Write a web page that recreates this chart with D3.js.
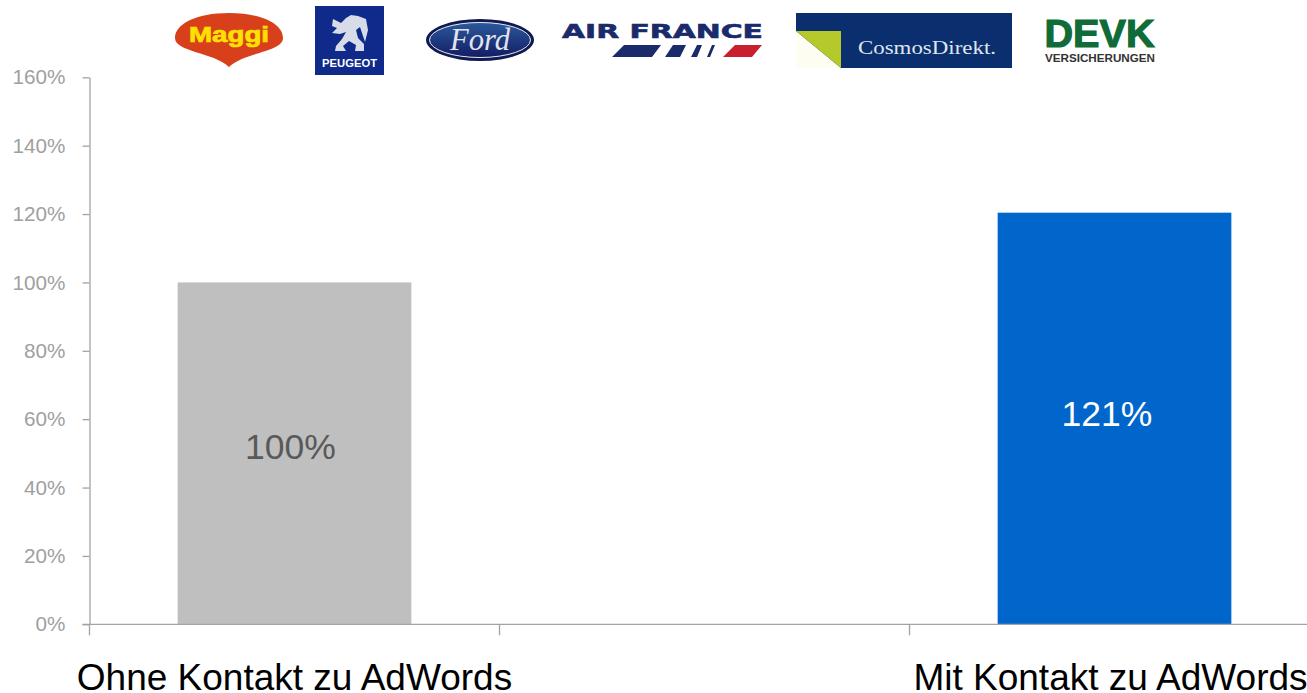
<!DOCTYPE html>
<html>
<head>
<meta charset="utf-8">
<script src="https://d3js.org/d3.v7.min.js"></script>
<style>
html, body { margin: 0; padding: 0; background: #fff; overflow: hidden; }
svg { display: block; font-family: "Liberation Sans", Arial, sans-serif; }
</style>
</head>
<body>
<svg id="chart" width="1307" height="693"></svg>
<script>
// middle category is empty in the original chart, it only leaves the gap
const categories = ["Ohne Kontakt zu AdWords", "", "Mit Kontakt zu AdWords"];
const barCategories = ["Ohne Kontakt zu AdWords", "Mit Kontakt zu AdWords"];
const barValues = [100, 120.4];
const barLabels = ["100%", "121%"];
const yTicks = [0, 20, 40, 60, 80, 100, 120, 140, 160];

const svg = d3.select("#chart");
const axisColor = "#a3a3a3";

const x = d3.scaleBand().domain(categories).range([89.5, 1319.5]);
const y = d3.scaleLinear().domain([0, 160]).range([624.3, 77.3]);
const barWidth = x.bandwidth() * 0.57;

// bars
const bars = svg.append("g").selectAll("g")
  .data(barCategories)
  .enter().append("g");

bars.append("rect")
  .attr("x", d => x(d) + (x.bandwidth() - barWidth) / 2)
  .attr("y", (d, i) => y(barValues[i]))
  .attr("width", barWidth)
  .attr("height", (d, i) => y(0) - y(barValues[i]))
  .attr("fill", (d, i) => i == 0 ? "#bfbfbf" : "#0066cc");

// the labels sit a little left of the bar centre in the original
bars.append("text")
  .attr("x", (d, i) => x(d) + x.bandwidth() / 2 - 4 - 3.5 * i)
  .attr("y", (d, i) => (y(0) + y(barValues[i])) / 2 + 6 + 2 * i)
  .attr("text-anchor", "middle")
  .attr("font-size", 35.5)
  .attr("fill", (d, i) => i == 0 ? "#595959" : "#ffffff")
  .text((d, i) => barLabels[i]);

// y axis
const yAxis = svg.append("g")
  .attr("transform", "translate(89.5,0)")
  .call(d3.axisLeft(y).tickValues(yTicks).tickSize(7).tickSizeOuter(0).tickPadding(17).tickFormat(d => d + "%"));
yAxis.select(".domain").attr("stroke", axisColor).attr("stroke-width", 1.3);
yAxis.selectAll(".tick line").attr("stroke", axisColor).attr("stroke-width", 1.3);
yAxis.selectAll(".tick text")
  .attr("fill", "#a0a0a0")
  .attr("font-family", "Liberation Sans")
  .attr("font-size", 20.7);

// x axis, ticks sit between the categories
const xAxis = svg.append("g");
xAxis.append("line")
  .attr("x1", 82.5).attr("x2", 1307)
  .attr("y1", y(0)).attr("y2", y(0))
  .attr("stroke", axisColor).attr("stroke-width", 1.3);
xAxis.selectAll(".xtick")
  .data(categories)
  .enter().append("line")
  .attr("class", "xtick")
  .attr("x1", d => x(d)).attr("x2", d => x(d))
  .attr("y1", y(0)).attr("y2", y(0) + 11)
  .attr("stroke", axisColor).attr("stroke-width", 1.3);
xAxis.selectAll(".xlabel")
  .data(barCategories)
  .enter().append("text")
  .attr("class", "xlabel")
  .attr("x", (d, i) => x(d) + x.bandwidth() / 2 - i * 4)
  .attr("y", 690)
  .attr("text-anchor", "middle")
  .attr("font-size", 37)
  .attr("fill", "#000")
  .text(d => d);

// logo row
const logos = svg.append("g");
const defs = svg.append("defs");
const fordGrad = defs.append("linearGradient").attr("id", "fordGrad").attr("x1", 0).attr("y1", 0).attr("x2", 0).attr("y2", 1);
fordGrad.append("stop").attr("offset", 0).attr("stop-color", "#2a5a9c");
fordGrad.append("stop").attr("offset", 1).attr("stop-color", "#141c63");

// Maggi
logos.append("path")
  .attr("d", "M229,13 C262,13 283,24 283,38 C283,52 245,52 229,67 C213,52 175,52 175,38 C175,24 196,13 229,13 Z")
  .attr("fill", "#d8401c");
logos.append("text").attr("x", 189).attr("y", 42)
  .attr("textLength", 80).attr("lengthAdjust", "spacingAndGlyphs")
  .attr("font-size", 22).attr("font-weight", "bold")
  .attr("stroke", "#ffe000").attr("stroke-width", 0.7)
  .attr("fill", "#ffe000").text("Maggi");

// Peugeot
logos.append("rect").attr("x", 315).attr("y", 6).attr("width", 69).attr("height", 69).attr("fill", "#0f2a8a");
logos.append("path")
  .attr("d", "M333,19 L341,23 L346,18 L351,15 L358,16 L366,19 L368,30 L365,42 L362,33 L360,27 L356,30 L358,38 L364,44 L364,51 L355,51 L356,45 L349,41 L343,46 L346,51 L335,51 L336,46 L342,39 L346,32 L340,34 L332,33 L337,28 L332,26 Z")
  .attr("fill", "#d8dbe8");
logos.append("text").attr("x", 322).attr("y", 66.5)
  .attr("textLength", 55).attr("lengthAdjust", "spacingAndGlyphs")
  .attr("font-size", 10.5).attr("font-weight", "bold")
  .attr("fill", "#fff").text("PEUGEOT");

// Ford
logos.append("ellipse").attr("cx", 480).attr("cy", 40).attr("rx", 54).attr("ry", 21).attr("fill", "#101a52");
logos.append("ellipse").attr("cx", 480).attr("cy", 40).attr("rx", 50.5).attr("ry", 17.5)
  .attr("fill", "url(#fordGrad)").attr("stroke", "#e6e9f2").attr("stroke-width", 1);
logos.append("text").attr("x", 450).attr("y", 50)
  .attr("textLength", 60).attr("lengthAdjust", "spacingAndGlyphs")
  .attr("font-size", 32).attr("font-style", "italic")
  .attr("font-family", "Liberation Serif").attr("fill", "#e2e4ee").text("Ford");

// Air France
logos.append("text").attr("x", 562).attr("y", 38)
  .attr("textLength", 201).attr("lengthAdjust", "spacingAndGlyphs")
  .attr("font-size", 19).attr("font-weight", "bold").attr("font-family", "DejaVu Sans")
  .attr("stroke", "#1b2a6b").attr("stroke-width", 0.6)
  .attr("fill", "#1b2a6b").text("AIR FRANCE");
logos.append("path")
  .attr("d", "M612,57 L624,45 L661,45 L652,57 Z M665,57 L673,45 L686,45 L680,57 Z M691,57 L697,45 L702,45 L697,57 Z M707,57 L712,45 L715,45 L710,57 Z")
  .attr("fill", "#1b2a6b");
logos.append("path").attr("d", "M723,57 L735,45 L762,45 L752,57 Z").attr("fill", "#c8202f");

// CosmosDirekt
logos.append("rect").attr("x", 796).attr("y", 13).attr("width", 216).attr("height", 55).attr("fill", "#0b2f6e");
logos.append("path").attr("d", "M796,31 L796,68 L841,68 Z").attr("fill", "#fdfdf2");
logos.append("path").attr("d", "M796,31 L841,31 L841,68 Z").attr("fill", "#b5c92a");
logos.append("text").attr("x", 858).attr("y", 54)
  .attr("font-size", 18).attr("font-family", "Liberation Serif")
  .attr("textLength", 138).attr("lengthAdjust", "spacingAndGlyphs")
  .attr("fill", "#dfe6ee").text("CosmosDirekt.");

// DEVK
logos.append("text").attr("x", 1044.5).attr("y", 47)
  .attr("textLength", 110).attr("lengthAdjust", "spacingAndGlyphs")
  .attr("font-size", 38.5).attr("font-weight", "bold")
  .attr("stroke", "#0f6b38").attr("stroke-width", 1.2)
  .attr("fill", "#0f6b38").text("DEVK");
logos.append("text").attr("x", 1045).attr("y", 62)
  .attr("textLength", 110).attr("lengthAdjust", "spacingAndGlyphs")
  .attr("font-size", 11.5).attr("font-weight", "bold")
  .attr("fill", "#333").text("VERSICHERUNGEN");
</script>
</body>
</html>
